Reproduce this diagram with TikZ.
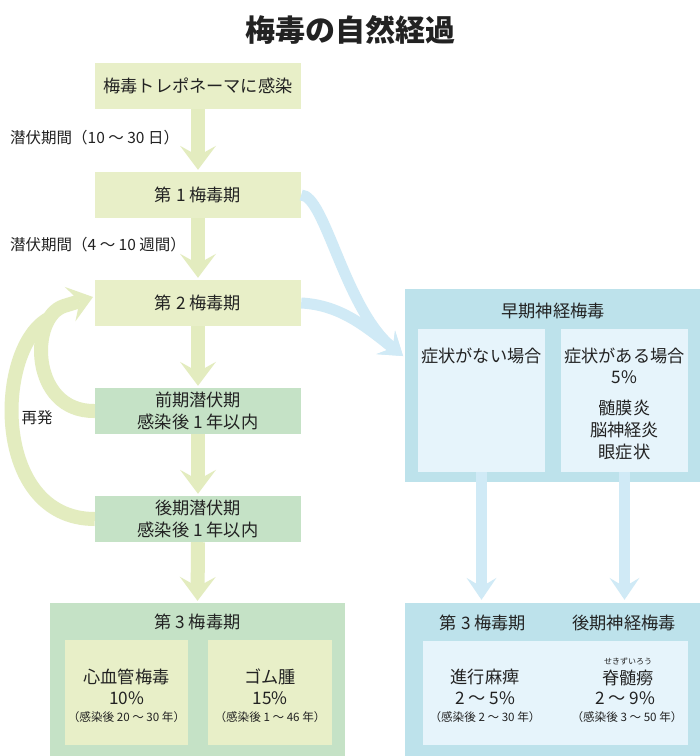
\documentclass[tikz,border=0pt]{standalone}
\usepackage{fontspec}
\setmainfont{Noto Sans CJK JP}
\usetikzlibrary{arrows.meta}
\definecolor{cY}{HTML}{E8EFC8}
\definecolor{cG}{HTML}{C5E2C6}
\definecolor{cYA}{HTML}{E3ECBF}
\definecolor{cBO}{HTML}{BDE2EB}
\definecolor{cBI}{HTML}{E6F4FB}
\definecolor{cBA}{HTML}{D0EAF6}
\definecolor{cT}{HTML}{222222}
\begin{document}
\begin{tikzpicture}[x=1pt,y=-1pt,
  every node/.style={text=cT},
  boxbase/.style={rectangle, inner sep=0pt, align=center, font=\fontsize{17.2}{21.5}\selectfont},
  ybx/.style={boxbase, fill=cY, minimum width=206pt, minimum height=46pt},
  gbx/.style={boxbase, fill=cG, minimum width=206pt, minimum height=46pt},
  plain/.style={inner sep=0pt, align=center, font=\fontsize{17.2}{21}\selectfont},
  small/.style={inner sep=0pt, align=center, font=\fontsize{11.6}{13}\selectfont},
  lbl/.style={inner sep=0pt, anchor=west, font=\fontsize{15.5}{18}\selectfont},
  yarr/.style={draw=cYA, line width=14pt, -{Stealth[length=24pt,width=36pt,inset=10pt,line width=0pt,color=cYA]}},
  barr/.style={draw=cBA, line width=11pt, -{Stealth[length=22pt,width=30pt,inset=9pt,line width=0pt,color=cBA]}},
  ywide/.style={draw=cYA, line width=14pt}
]
\useasboundingbox (0,0) rectangle (700,756);
\fill[white] (0,0) rectangle (700,756);

% title
\node[inner sep=0pt, font=\fontsize{30}{35}\selectfont\bfseries] (title) at (350,30) {梅毒の自然経過};

% left column boxes
\node[ybx] (b1) at (198,86) {梅毒トレポネーマに感染};
\node[ybx] (b2) at (198,195) {第 1 梅毒期};
\node[ybx] (b3) at (198,303) {第 2 梅毒期};
\node[gbx] (b4) at (198,411) {前期潜伏期\\感染後 1 年以内};
\node[gbx] (b5) at (198,519) {後期潜伏期\\感染後 1 年以内};

\node[lbl] (l1) at (10,138) {潜伏期間（10 ～ 30 日）};
\node[lbl] (l2) at (10,245) {潜伏期間（4 ～ 10 週間）};
\node[inner sep=0pt, font=\fontsize{15.5}{18}\selectfont] (rel) at (37,418) {再発};

% third stage (left)
\node[rectangle, fill=cG, minimum width=295pt, minimum height=153pt, inner sep=0pt] (o3) at (197.5,679.5) {};
\node[plain] (o3t) at (197.5,622) {第 3 梅毒期};
\node[rectangle, fill=cY, minimum width=123pt, minimum height=105pt, inner sep=0pt] (in1) at (126.5,692.5) {};
\node[rectangle, fill=cY, minimum width=124pt, minimum height=105pt, inner sep=0pt] (in2) at (270,692.5) {};
\node[plain] (in1a) at (126.5,677) {心血管梅毒};
\node[plain] (in1b) at (126.5,698) {10\%};
\node[small] (in1c) at (126.5,717) {（感染後 20 ～ 30 年）};
\node[plain] (in2a) at (270,677) {ゴム腫};
\node[plain] (in2b) at (270,698) {15\%};
\node[small] (in2c) at (270,717) {（感染後 1 ～ 46 年）};

% early neurosyphilis
\node[rectangle, fill=cBO, minimum width=295pt, minimum height=193pt, inner sep=0pt] (oe) at (552.5,385.5) {};
\node[plain] (oet) at (553,311) {早期神経梅毒};
\node[rectangle, fill=cBI, minimum width=127pt, minimum height=143pt, inner sep=0pt] (ia) at (481.5,400.5) {};
\node[rectangle, fill=cBI, minimum width=127pt, minimum height=143pt, inner sep=0pt] (ib) at (624.5,400.5) {};
\node[plain] (iat) at (481.5,356) {症状がない場合};
\node[plain] (ibt) at (624.5,356) {症状がある場合};
\node[plain] (ibp) at (624.5,377) {5\%};
\node[plain] (ib1) at (624.5,408) {髄膜炎};
\node[plain] (ib2) at (624.5,430) {脳神経炎};
\node[plain] (ib3) at (624.5,452) {眼症状};

% late neurosyphilis
\node[rectangle, fill=cBO, minimum width=295pt, minimum height=153pt, inner sep=0pt] (ol) at (552.5,679.5) {};
\node[plain] (olt1) at (483,623) {第 3 梅毒期};
\node[plain] (olt2) at (624,623) {後期神経梅毒};
\node[rectangle, fill=cBI, minimum width=265pt, minimum height=104pt, inner sep=0pt] (il) at (555.5,693) {};
\node[plain] (il1a) at (485,677) {進行麻痺};
\node[plain] (il1b) at (485,698) {2 ～ 5\%};
\node[small] (il1c) at (485,717) {（感染後 2 ～ 30 年）};
\node[inner sep=0pt, font=\fontsize{8}{9}\selectfont] (il2r) at (628,661) {せきずいろう};
\node[plain] (il2a) at (628,678) {脊髄癆};
\node[plain] (il2b) at (625,698) {2 ～ 9\%};
\node[small] (il2c) at (627,717) {（感染後 3 ～ 50 年）};

\coordinate (btip) at (403,356);
\coordinate (rtip) at (93,297);
\coordinate (rmid) at (64,306);
\coordinate (rjoin) at (50,318);

% yellow arrows
\draw[yarr, shorten >=2pt] (b1.south) -- (b2.north);
\draw[yarr, shorten >=2pt] (b2.south) -- (b3.north);
\draw[yarr, shorten >=2pt] (b3.south) -- (b4.north);
\draw[yarr, shorten >=2pt] (b4.south) -- (b5.north);
\draw[yarr, shorten >=2pt] (b5.south) -- (o3.north);

% relapse arrows
\draw[ywide] (b5.west) .. controls (-10,519) and (-5,345) .. (rjoin);
\draw[yarr] (b4.west) .. controls (30,412) and (29,317) .. (rmid) -- (rtip);

% blue arrows
\draw[barr] (b2.east) .. controls (325,195) and (345,310) .. (btip);
\draw[barr] (b3.east) .. controls (340,305) and (365,326) .. (btip);
\draw[barr, shorten >=3pt] (ia.south) -- (ia.south |- ol.north);
\draw[barr, shorten >=3pt] (ib.south) -- (ib.south |- ol.north);
\end{tikzpicture}
\end{document}
